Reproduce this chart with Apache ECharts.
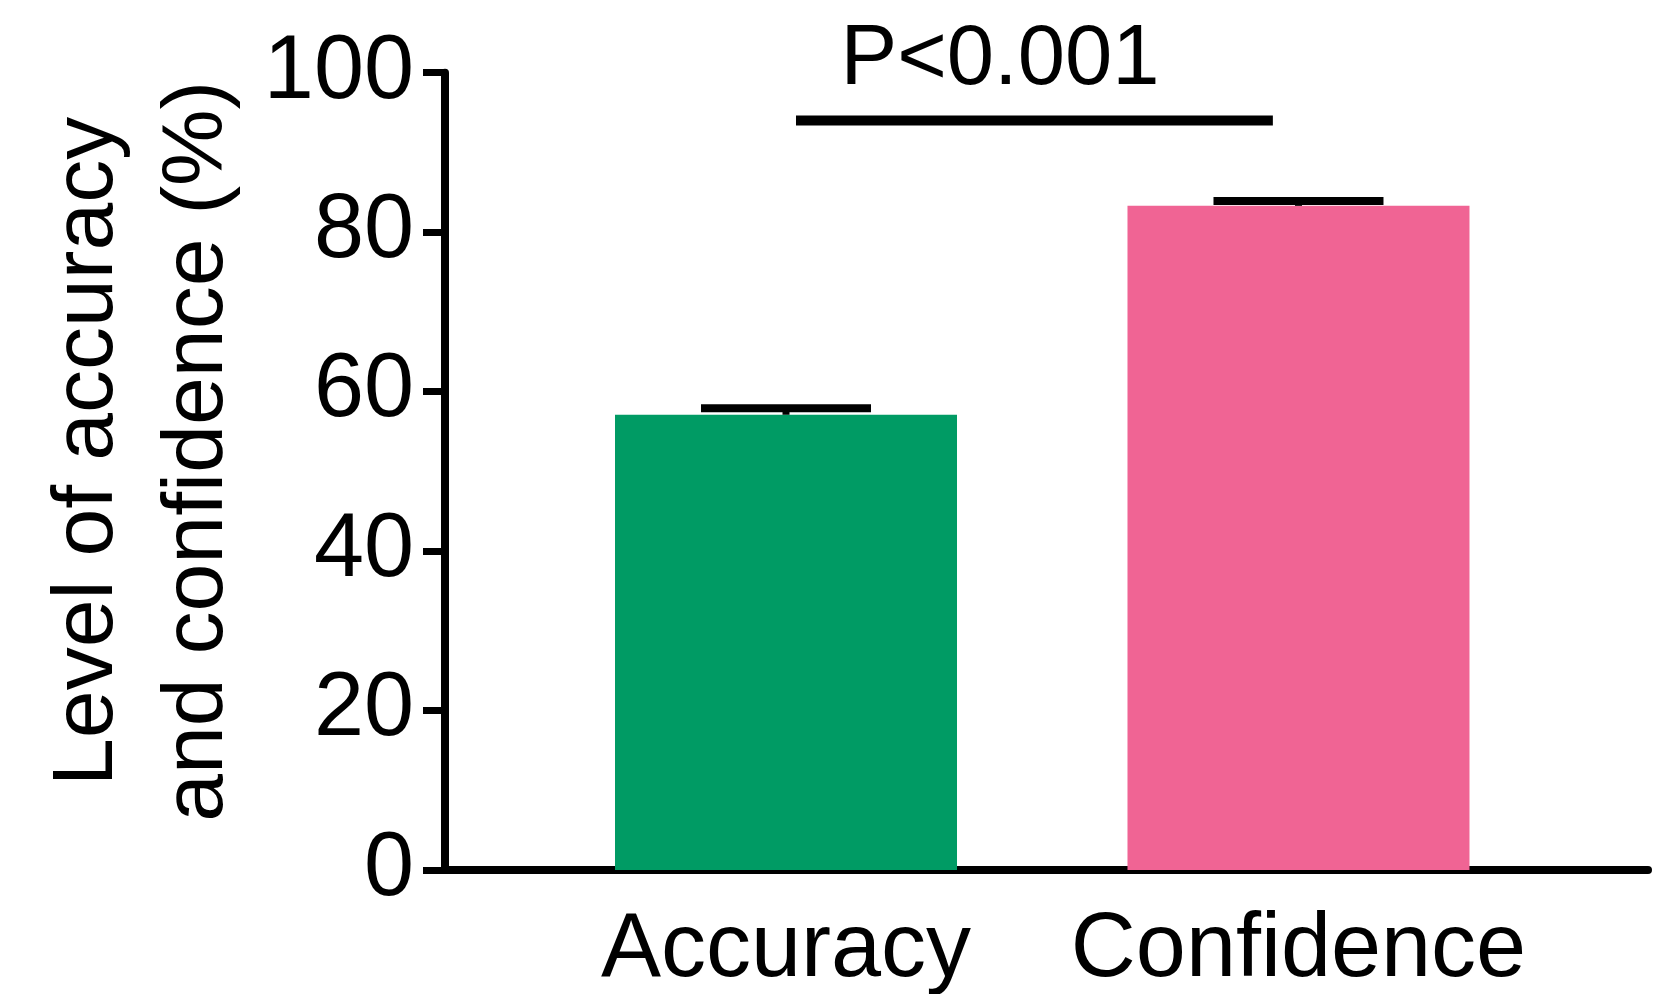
<!DOCTYPE html>
<html>
<head>
<meta charset="utf-8">
<script src="https://cdn.jsdelivr.net/npm/echarts@6/dist/echarts.min.js"></script>
<style>
  html, body { margin: 0; padding: 0; background: #ffffff; }
  #chart { width: 1665px; height: 994px; }
</style>
</head>
<body>
<div id="chart"></div>
<script>
// ---- data ----
const categories = ['Accuracy', 'Confidence'];
const means = [57.1, 83.3];
const sems = [0.8, 0.6];
const yTickValues = [0, 20, 40, 60, 80, 100];
const yAxisTitle = 'Level of accuracy\nand confidence (%)';
const sigLabel = 'P<0.001';
const sigLevel = 94;

// ---- styles ----
const barColors = ['#009B64', '#F06494'];
const FONT = '"Liberation Sans", Arial, Helvetica, sans-serif';

const barData = categories.map((c, i) => ({
  value: [i, means[i]],
  itemStyle: { color: barColors[i] }
}));
const errData = categories.map((c, i) => [i, means[i], sems[i]]);

const chart = echarts.init(document.getElementById('chart'), null, { renderer: 'canvas' });

chart.setOption({
  backgroundColor: '#ffffff',
  animation: false,
  grid: { left: 445, right: 17, top: 72.7, bottom: 124, containLabel: false, outerBoundsMode: 'none' },
  xAxis: {
    type: 'value',
    min: -0.6654,
    max: 1.682,
    splitLine: { show: false },
    axisLine: { show: true, onZero: false, lineStyle: { color: '#000', width: 8 } },
    axisTick: { show: false },
    axisLabel: {
      show: true,
      customValues: categories.map((c, i) => i),
      formatter: (v) => categories[Math.round(v)] || '',
      fontSize: 90,
      fontFamily: FONT,
      color: '#000',
      margin: 36
    }
  },
  yAxis: {
    type: 'value',
    min: yTickValues[0],
    max: yTickValues[yTickValues.length - 1],
    interval: yTickValues[1] - yTickValues[0],
    splitLine: { show: false },
    axisLine: { show: true, onZero: false, lineStyle: { color: '#000', width: 8 } },
    axisTick: { show: true, length: 22, lineStyle: { color: '#000', width: 7 } },
    axisLabel: { fontSize: 90, fontFamily: FONT, color: '#000', margin: 31 },
    name: yAxisTitle,
    nameLocation: 'middle',
    nameGap: 192,
    nameRotate: 90,
    nameTextStyle: { fontSize: 86, fontFamily: FONT, color: '#000', lineHeight: 110, padding: [0, 0, 0, 40] }
  },
  series: [
    {
      type: 'bar',
      data: barData,
      barWidth: 342,
      z: 2
    },
    {
      type: 'custom',
      data: errData,
      z: 3,
      renderItem: function (params, api) {
        const x = api.value(0), m = api.value(1), s = api.value(2);
        const base = api.coord([x, m]);
        const top = api.coord([x, m + s]);
        const half = 85;
        return {
          type: 'group',
          children: [
            { type: 'line', shape: { x1: top[0], y1: base[1], x2: top[0], y2: top[1] }, style: { stroke: '#000', lineWidth: 7 } },
            { type: 'line', shape: { x1: top[0] - half, y1: top[1], x2: top[0] + half, y2: top[1] }, style: { stroke: '#000', lineWidth: 8 } }
          ]
        };
      }
    },
    {
      type: 'custom',
      data: [[0.0195, 0.950, sigLevel]],
      z: 4,
      renderItem: function (params, api) {
        const a = api.coord([api.value(0), api.value(2)]);
        const b = api.coord([api.value(1), api.value(2)]);
        const tx = api.coord([0.4175, api.value(2)]);
        return {
          type: 'group',
          children: [
            { type: 'line', shape: { x1: a[0], y1: a[1], x2: b[0], y2: b[1] }, style: { stroke: '#000', lineWidth: 10 } },
            { type: 'text', x: tx[0], y: a[1] - 60, style: { text: sigLabel, fontSize: 85, fontFamily: FONT, fill: '#000', align: 'center', verticalAlign: 'middle' } }
          ]
        };
      }
    }
  ]
});
</script>
</body>
</html>
